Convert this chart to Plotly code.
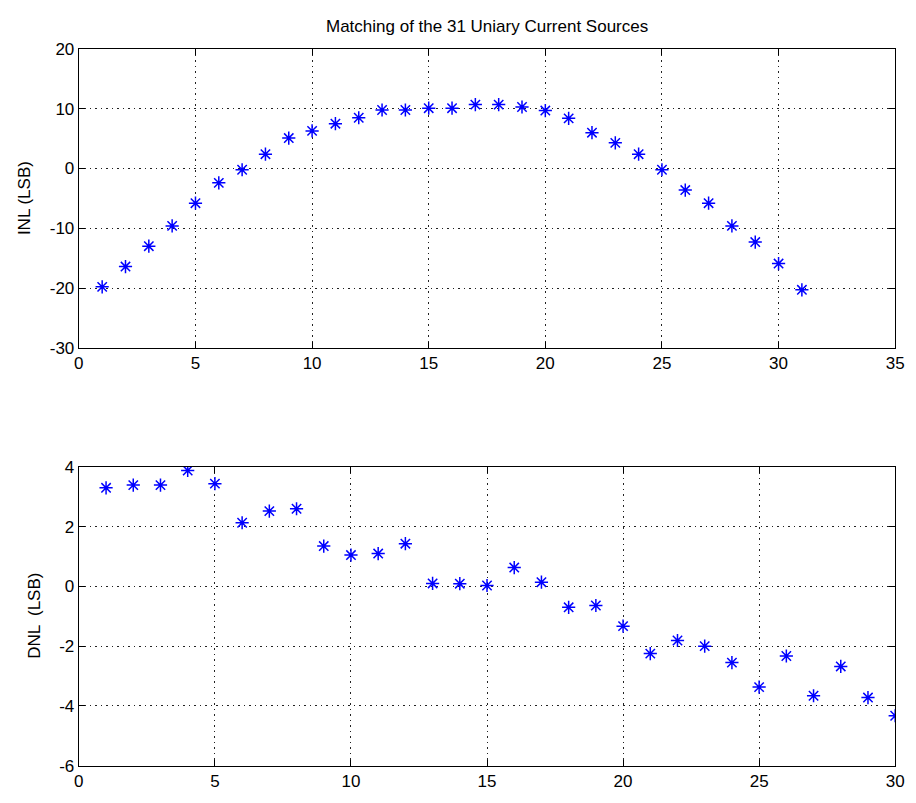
import plotly.graph_objects as go

# ---- data ----
inl_x = list(range(1, 32))
inl_y = [-19.8, -16.4, -13.0, -9.6, -5.8, -2.4, -0.2, 2.4, 5.1, 6.3, 7.5, 8.5,
         9.8, 9.8, 10.1, 10.1, 10.7, 10.7, 10.3, 9.7, 8.4, 6.0, 4.3, 2.4,
         -0.2, -3.6, -5.8, -9.6, -12.3, -15.9, -20.3]

dnl_x = list(range(1, 31))
dnl_y = [3.30, 3.39, 3.39, 3.88, 3.44, 2.13, 2.52, 2.60, 1.35, 1.05, 1.10, 1.43,
         0.10, 0.09, 0.03, 0.63, 0.14, -0.70, -0.64, -1.33, -2.25, -1.81, -2.00,
         -2.55, -3.37, -2.33, -3.66, -2.68, -3.72, -4.33]

inl_xticks = [0, 5, 10, 15, 20, 25, 30, 35]
inl_yticks = [-30, -20, -10, 0, 10, 20]
dnl_xticks = [0, 5, 10, 15, 20, 25, 30]
dnl_yticks = [-6, -4, -2, 0, 2, 4]

title_text = "Matching of the 31 Uniary Current Sources"
inl_label = "INL (LSB)"
dnl_label = "DNL  (LSB)"

W, H = 916, 803
FONT = "Liberation Sans, Arial, sans-serif"

def px_x(p):
    return p / W

def px_y(p):
    return 1 - p / H

def labels(vals):
    return [str(v) for v in vals]  # plain hyphen-minus like the original

fig = go.Figure()
marker = dict(symbol="asterisk-open", size=11, color="#0000ff",
              line=dict(color="#0000ff", width=1.5))
fig.add_trace(go.Scatter(x=inl_x, y=inl_y, mode="markers", marker=marker,
                         xaxis="x", yaxis="y", showlegend=False))
fig.add_trace(go.Scatter(x=dnl_x, y=dnl_y, mode="markers", marker=marker,
                         xaxis="x2", yaxis="y2", showlegend=False))

ax_common = dict(showline=True, linecolor="black", linewidth=1.3, mirror="allticks",
                 ticks="inside", ticklen=6, tickcolor="black", tickwidth=1.2,
                 showgrid=True, gridcolor="#222222", griddash="1.5px,4px", gridwidth=1.2,
                 zeroline=False, tickfont=dict(family=FONT, size=17, color="black"))

dom_x = [px_x(75), px_x(904)]
fig.update_layout(
    width=W, height=H,
    margin=dict(l=0, r=0, t=0, b=0),
    paper_bgcolor="white", plot_bgcolor="white",
    font=dict(family=FONT, color="black"),
    xaxis=dict(domain=dom_x, range=[0, 35], tickmode="array", tickvals=inl_xticks,
               ticktext=labels(inl_xticks), anchor="y", **ax_common),
    yaxis=dict(domain=[px_y(347), px_y(41)], range=[-30, 20], tickmode="array",
               tickvals=inl_yticks, ticktext=labels(inl_yticks), anchor="x", **ax_common),
    xaxis2=dict(domain=dom_x, range=[0, 30], tickmode="array", tickvals=dnl_xticks,
                ticktext=labels(dnl_xticks), anchor="y2", **ax_common),
    yaxis2=dict(domain=[px_y(775), px_y(469)], range=[-6, 4], tickmode="array",
                tickvals=dnl_yticks, ticktext=labels(dnl_yticks), anchor="x2", **ax_common),
    annotations=[
        dict(text=title_text, x=px_x(489), y=px_y(18), xref="paper", yref="paper",
             xanchor="center", yanchor="middle", showarrow=False,
             font=dict(family=FONT, size=17, color="black")),
        dict(text=inl_label, x=px_x(20), y=px_y(194), xref="paper", yref="paper",
             xanchor="center", yanchor="middle", showarrow=False, textangle=-90,
             font=dict(family=FONT, size=17, color="black")),
        dict(text=dnl_label, x=px_x(30), y=px_y(622), xref="paper", yref="paper",
             xanchor="center", yanchor="middle", showarrow=False, textangle=-90,
             font=dict(family=FONT, size=17, color="black")),
    ],
)

fig.write_html("out.html")
